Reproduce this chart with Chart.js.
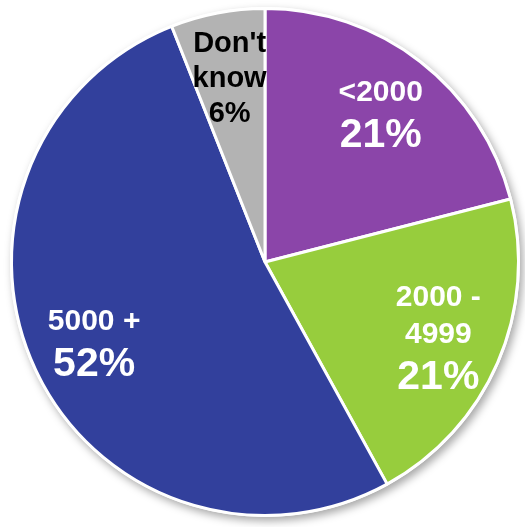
<!DOCTYPE html>
<html>
<head>
<meta charset="utf-8">
<script src="https://cdn.jsdelivr.net/npm/chart.js@4/dist/chart.umd.min.js"></script>
<style>
  html, body { margin: 0; padding: 0; background: #ffffff; }
  #wrap { width: 525px; height: 527px; }
</style>
</head>
<body>
<div id="wrap"><canvas id="pie" width="525" height="527"></canvas></div>
<script>
// Survey answer groups and their shares (percent)
const categories = ['<2000', '2000 - 4999', '5000 +', "Don't know"];
const shares = [21, 21, 52, 6];
// Text printed inside each slice: category lines, then the share
const labelLines = [
  ['<2000'],
  ['2000 -', '4999'],
  ['5000 +'],
  ["Don't", 'know']
];
const sliceColors = ['#8b45a9', '#97cd3d', '#32409c', '#b3b3b3'];
const textColors = ['#ffffff', '#ffffff', '#ffffff', '#000000'];

// Soft drop shadow behind the whole disc
const discShadow = {
  id: 'discShadow',
  beforeDatasetsDraw(chart) {
    const arc = chart.getDatasetMeta(0).data[0];
    if (!arc) return;
    const ctx = chart.ctx;
    ctx.save();
    ctx.shadowColor = 'rgba(0,0,0,0.35)';
    ctx.shadowBlur = 8;
    ctx.shadowOffsetX = 3;
    ctx.shadowOffsetY = 4;
    ctx.fillStyle = '#ffffff';
    ctx.beginPath();
    ctx.arc(arc.x, arc.y, arc.outerRadius + 1.5, 0, Math.PI * 2);
    ctx.fill();
    ctx.restore();
  }
};

// Category name and share written inside every slice
const sliceLabels = {
  id: 'sliceLabels',
  afterDatasetsDraw(chart) {
    const ctx = chart.ctx;
    const meta = chart.getDatasetMeta(0);
    const values = chart.data.datasets[0].data;
    const total = values.reduce((a, b) => a + b, 0);
    meta.data.forEach((arc, i) => {
      const mid = (arc.startAngle + arc.endAngle) / 2;
      const r = arc.outerRadius * 0.745;
      const cx = arc.x + Math.cos(mid) * r;
      const cy = arc.y + Math.sin(mid) * r;
      const pct = Math.round(values[i] / total * 100) + '%';
      const dark = i === 3;
      const lines = labelLines[i].map(t => ({ text: t, size: dark ? 29 : 30, gap: dark ? 35 : 37 }));
      lines.push({ text: pct, size: dark ? 29 : 41, gap: dark ? 35 : 46 });
      // total height measured from first line's cap top to last baseline
      let height = lines[0].size * 0.72;
      for (let k = 1; k < lines.length; k++) height += lines[k].gap;
      let y = cy - height / 2 + lines[0].size * 0.72;
      ctx.save();
      ctx.fillStyle = textColors[i];
      ctx.textAlign = 'center';
      ctx.textBaseline = 'alphabetic';
      lines.forEach((ln, k) => {
        if (k > 0) y += ln.gap;
        ctx.font = 'bold ' + ln.size + 'px "Liberation Sans", Arial, sans-serif';
        ctx.fillText(ln.text, cx, y);
      });
      ctx.restore();
    });
  }
};

new Chart(document.getElementById('pie'), {
  type: 'pie',
  data: {
    labels: categories,
    datasets: [{
      data: shares,
      backgroundColor: sliceColors,
      borderColor: '#ffffff',
      borderWidth: 3
    }]
  },
  options: {
    responsive: false,
    animation: false,
    layout: { padding: { left: 8, right: 3, top: 7, bottom: 10 } },
    plugins: {
      legend: { display: false },
      tooltip: { enabled: false }
    }
  },
  plugins: [discShadow, sliceLabels]
});
</script>
</body>
</html>
